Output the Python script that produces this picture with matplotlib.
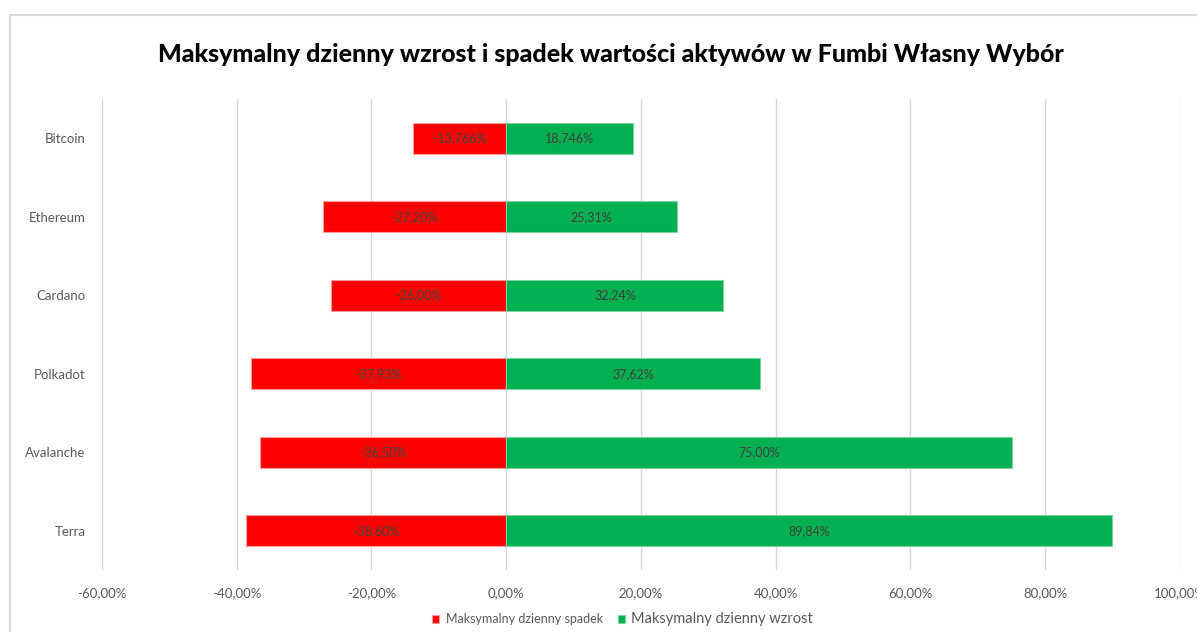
import matplotlib
matplotlib.use("Agg")
import matplotlib.pyplot as plt
from matplotlib.patches import Rectangle
from matplotlib.ticker import FuncFormatter, MultipleLocator

assets = ["Bitcoin", "Ethereum", "Cardano", "Polkadot", "Avalanche", "Terra"]
drops = [-13.766, -27.20, -26.00, -37.93, -36.50, -38.60]
gains = [18.746, 25.31, 32.24, 37.62, 75.00, 89.84]
drop_labels = ["-13,766%", "-27,20%", "-26,00%", "-37,93%", "-36,50%", "-38,60%"]
gain_labels = ["18,746%", "25,31%", "32,24%", "37,62%", "75,00%", "89,84%"]

RED = "#FF0000"
GREEN = "#00B050"
plt.rcParams["font.family"] = ["Lato", "DejaVu Sans"]

fig = plt.figure(figsize=(11.97, 6.32), dpi=100)
ax = fig.add_axes([0.0852, 0.0981, 0.9006, 0.7453])

# frame around the chart
fig.patches.append(Rectangle((0.0085, -0.01), 1.0, 0.987, transform=fig.transFigure,
                             fill=False, edgecolor="#D9D9D9", linewidth=1.5))

ypos = list(range(len(assets)))
b1 = ax.barh(ypos, drops, height=0.4, color=RED, edgecolor="#FF9A9A", linewidth=0.8,
             label="Maksymalny dzienny spadek", zorder=3)
b2 = ax.barh(ypos, gains, height=0.4, color=GREEN, edgecolor="#7FD3A0", linewidth=0.8,
             label="Maksymalny dzienny wzrost", zorder=3)
ax.bar_label(b1, labels=drop_labels, label_type="center", color="#404040", fontsize=9)
ax.bar_label(b2, labels=gain_labels, label_type="center", color="#404040", fontsize=9)

ax.set_xlim(-60, 100)
ax.set_ylim(len(assets) - 0.5, -0.5)
ax.xaxis.set_major_locator(MultipleLocator(20))
ax.xaxis.set_major_formatter(FuncFormatter(lambda v, p: f"{v:.2f}%".replace(".", ",")))
ax.set_yticks(ypos)
ax.set_yticklabels(assets)
ax.tick_params(axis="both", length=0, labelsize=9.5, colors="#595959")
ax.tick_params(axis="x", pad=12)
ax.tick_params(axis="y", pad=12)
ax.grid(axis="x", color="#D9D9D9", linewidth=1, zorder=0)
for s in ax.spines.values():
    s.set_visible(False)

fig.text(0.51, 0.913, "Maksymalny dzienny wzrost i spadek wartości aktywów w Fumbi Własny Wybór",
         ha="center", va="center", fontsize=18, fontweight=900, color="black")

leg = fig.legend(handles=[b1, b2], loc="center", bbox_to_anchor=(0.52, 0.02), ncol=2,
                 frameon=False, fontsize=9, handlelength=0.6, handleheight=0.6,
                 columnspacing=1.2, handletextpad=0.5)
leg.get_texts()[0].set_color("#595959")
leg.get_texts()[1].set_color("#595959")
leg.get_texts()[1].set_fontsize(10.5)

fig.savefig("out.png", dpi=100)
